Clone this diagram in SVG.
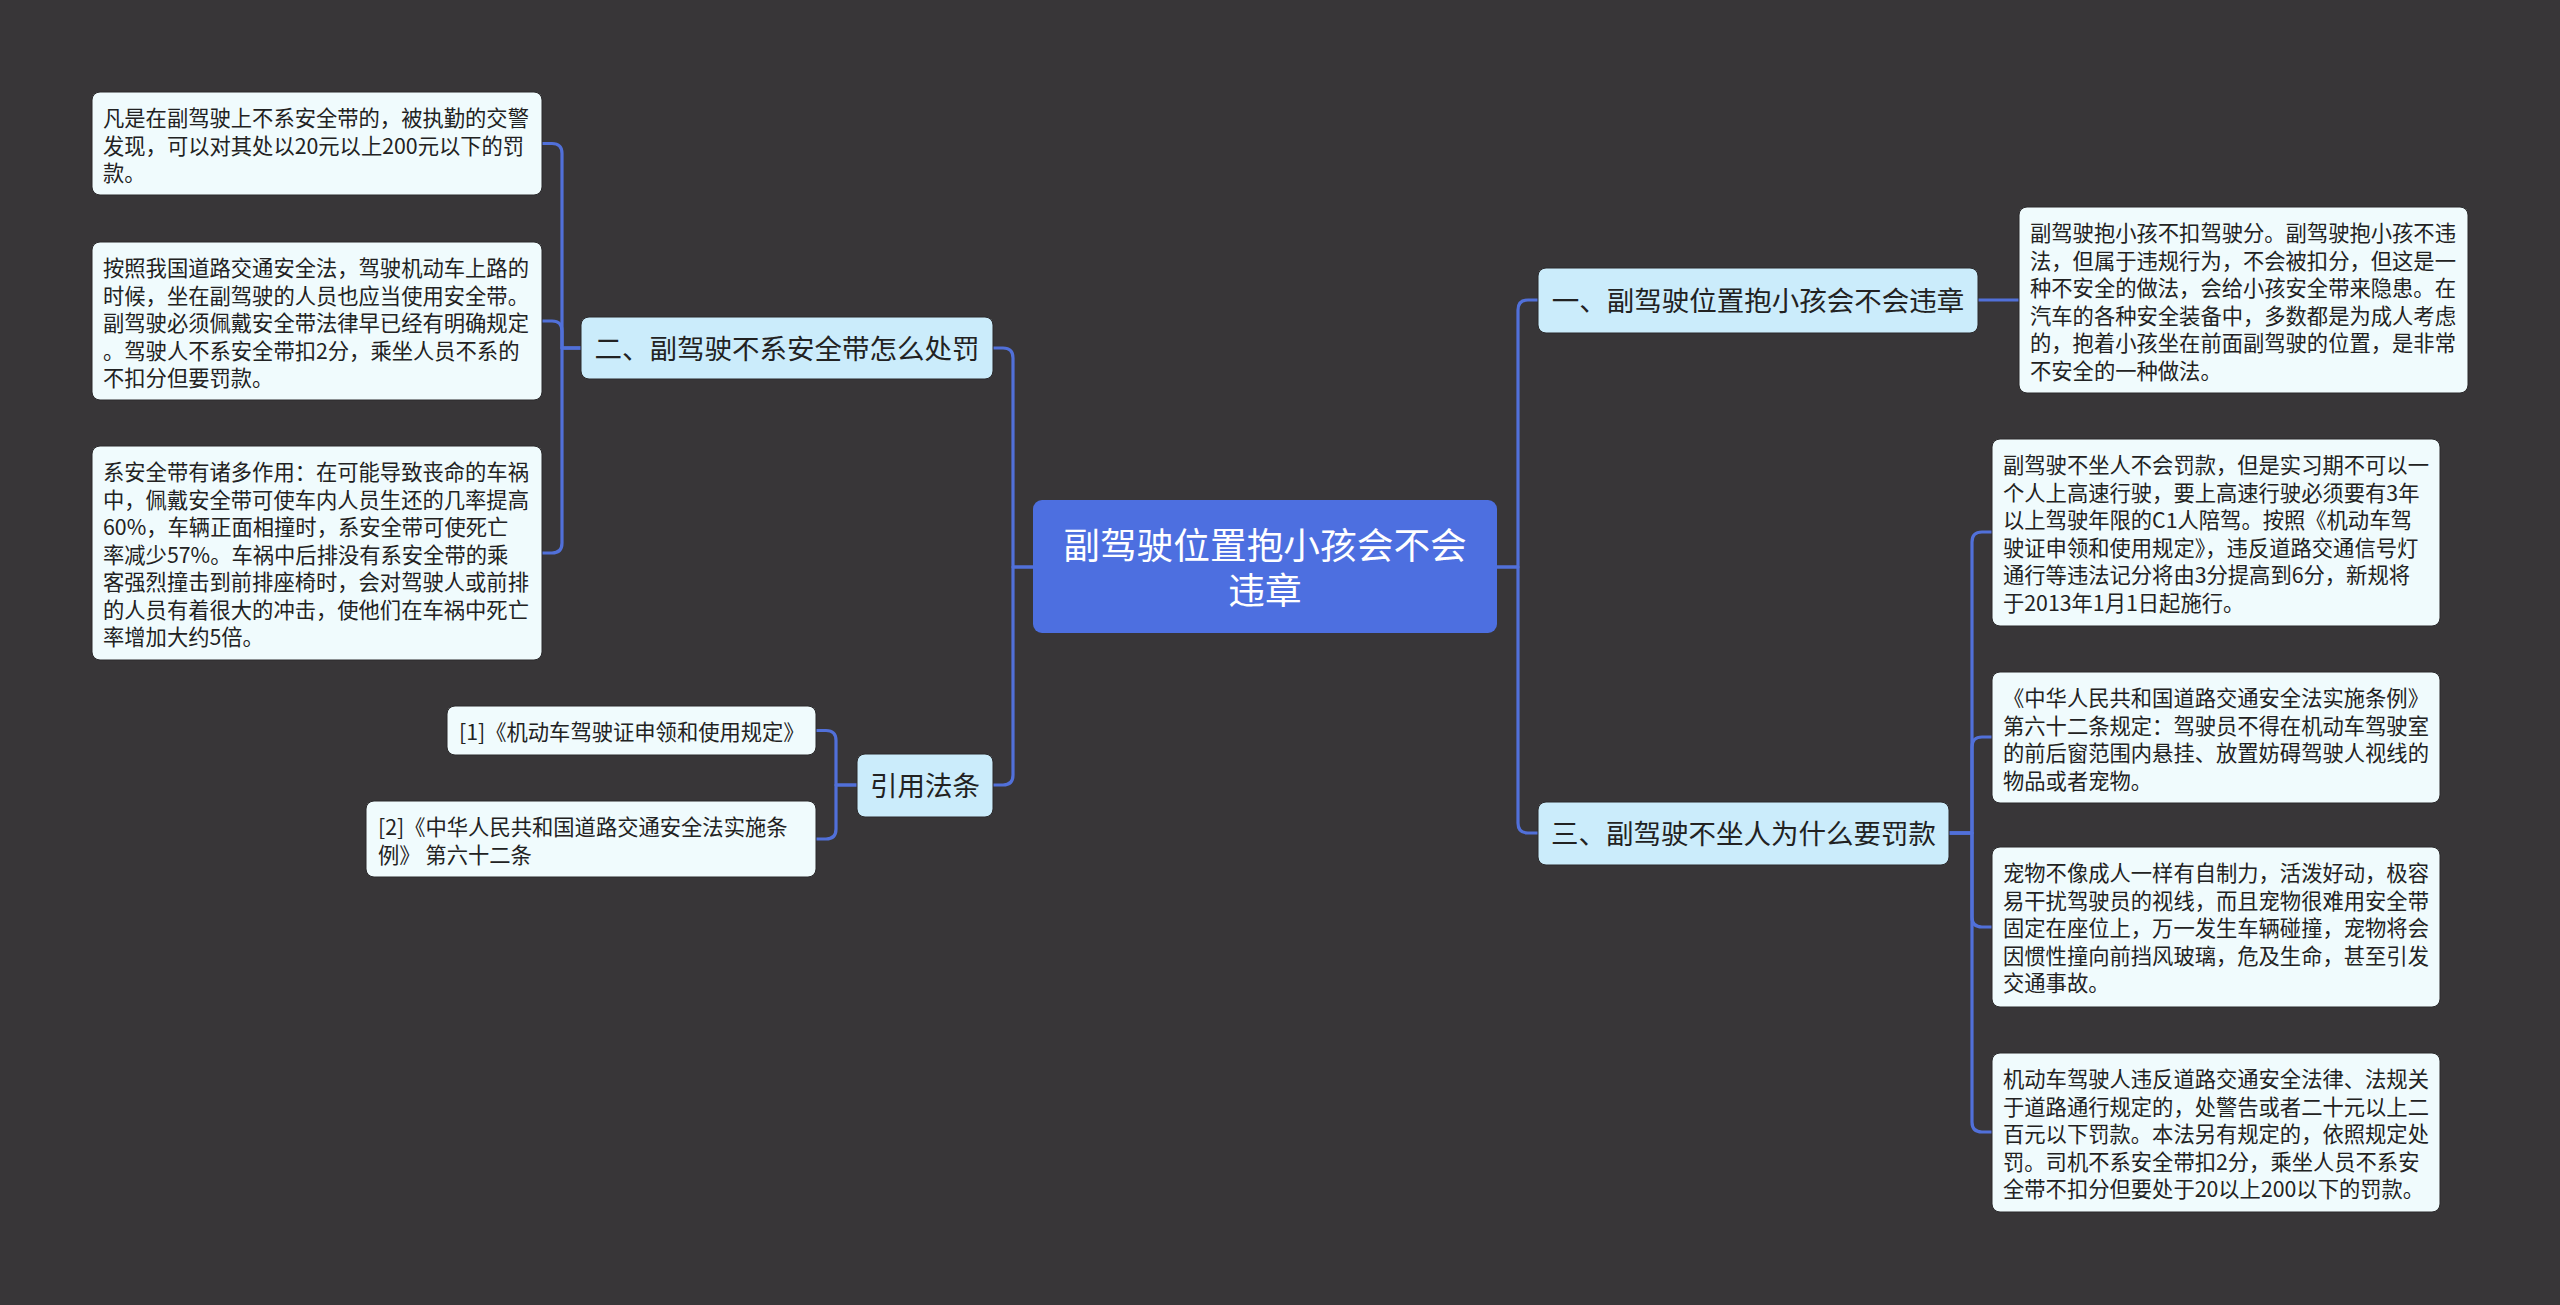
<svg xmlns="http://www.w3.org/2000/svg" width="2560" height="1305" viewBox="0 0 2560 1305">
<style>
.bg{fill:#383638}
.conn path{fill:none;stroke:#5170d9;stroke-width:3.2;stroke-linejoin:round;stroke-linecap:round}
.leaf rect{fill:#f0fbfd;stroke:#2a292b;stroke-width:1}
.leaf text{font-family:"Noto Sans CJK SC","Noto Sans",sans-serif;font-size:21.3px;fill:#222}
.main rect{fill:#cbecfb;stroke:#2a292b;stroke-width:1}
.main text{font-family:"Noto Sans CJK SC","Noto Sans",sans-serif;font-size:27.5px;fill:#222;text-anchor:middle}
.root rect{fill:#4d6fe0}
.root text{font-family:"Noto Sans CJK SC","Noto Sans",sans-serif;font-size:36.7px;fill:#fff;text-anchor:middle}
</style>
<rect class="bg" x="0" y="0" width="2560" height="1305"/>
<g id="connectors" class="conn">
<path d="M1033,567 L1013,567 L1013,358 Q1013,348 1003,348 L993,348"/>
<path d="M1033,567 L1013,567 L1013,775 Q1013,785 1003,785 L993,785"/>
<path d="M1497,567 L1518,567 L1518,310 Q1518,300 1528,300 L1538,300"/>
<path d="M1497,567 L1518,567 L1518,823 Q1518,833 1528,833 L1538,833"/>
<path d="M581,348 L562,348 L562,153.5 Q562,143.5 552,143.5 L542,143.5"/>
<path d="M581,348 L562,348 L562,331 Q562,321 552,321 L542,321"/>
<path d="M581,348 L562,348 L562,543 Q562,553 552,553 L542,553"/>
<path d="M857,785 L836,785 L836,740.5 Q836,730.5 826,730.5 L816,730.5"/>
<path d="M857,785 L836,785 L836,829 Q836,839 826,839 L816,839"/>
<path d="M1978,300 L2019,300"/>
<path d="M1949,833 L1972,833 L1972,542 Q1972,532 1982,532 L1992,532"/>
<path d="M1949,833 L1972,833 L1972,747 Q1972,737 1982,737 L1992,737"/>
<path d="M1949,833 L1972,833 L1972,917 Q1972,927 1982,927 L1992,927"/>
<path d="M1949,833 L1972,833 L1972,1122 Q1972,1132 1982,1132 L1992,1132"/>
</g>
<g id="root" class="root">
<rect x="1033" y="500" width="464" height="133" rx="9"/>
<text><tspan x="1265" y="559">副驾驶位置抱小孩会不会</tspan><tspan x="1265" y="604">违章</tspan></text>
</g>
<g id="n2" class="main">
<rect x="581" y="317" width="412" height="62" rx="8"/>
<text x="787" y="358.5">二、副驾驶不系安全带怎么处罚</text>
</g>
<g id="nref" class="main">
<rect x="857" y="754" width="136" height="63" rx="8"/>
<text x="925" y="796">引用法条</text>
</g>
<g id="n1" class="main">
<rect x="1538" y="268" width="440" height="65" rx="8"/>
<text x="1758" y="311">一、副驾驶位置抱小孩会不会违章</text>
</g>
<g id="n3" class="main">
<rect x="1538" y="802" width="411" height="63" rx="8"/>
<text x="1743.5" y="844">三、副驾驶不坐人为什么要罚款</text>
</g>
<g id="l1" class="leaf">
<rect x="92" y="92" width="450" height="103" rx="8"/>
<text><tspan x="103" y="126">凡是在副驾驶上不系安全带的，被执勤的交警</tspan><tspan x="103" y="153.5">发现，可以对其处以20元以上200元以下的罚</tspan><tspan x="103" y="181">款。</tspan></text>
</g>
<g id="l2" class="leaf">
<rect x="92" y="242" width="450" height="158" rx="8"/>
<text><tspan x="103" y="276">按照我国道路交通安全法，驾驶机动车上路的</tspan><tspan x="103" y="303.5">时候，坐在副驾驶的人员也应当使用安全带。</tspan><tspan x="103" y="331">副驾驶必须佩戴安全带法律早已经有明确规定</tspan><tspan x="103" y="358.5">。驾驶人不系安全带扣2分，乘坐人员不系的</tspan><tspan x="103" y="386">不扣分但要罚款。</tspan></text>
</g>
<g id="l3" class="leaf">
<rect x="92" y="446" width="450" height="214" rx="8"/>
<text><tspan x="103" y="480">系安全带有诸多作用：在可能导致丧命的车祸</tspan><tspan x="103" y="507.5">中，佩戴安全带可使车内人员生还的几率提高</tspan><tspan x="103" y="535">60%，车辆正面相撞时，系安全带可使死亡</tspan><tspan x="103" y="562.5">率减少57%。车祸中后排没有系安全带的乘</tspan><tspan x="103" y="590">客强烈撞击到前排座椅时，会对驾驶人或前排</tspan><tspan x="103" y="617.5">的人员有着很大的冲击，使他们在车祸中死亡</tspan><tspan x="103" y="645">率增加大约5倍。</tspan></text>
</g>
<g id="ref1" class="leaf">
<rect x="447" y="706" width="369" height="49" rx="8"/>
<text><tspan x="459" y="740">[1]《机动车驾驶证申领和使用规定》</tspan></text>
</g>
<g id="ref2" class="leaf">
<rect x="366" y="801" width="450" height="76" rx="8"/>
<text><tspan x="378" y="835">[2]《中华人民共和国道路交通安全法实施条</tspan><tspan x="378" y="862.5">例》 第六十二条</tspan></text>
</g>
<g id="r1" class="leaf">
<rect x="2019" y="207" width="449" height="186" rx="8"/>
<text><tspan x="2030" y="241">副驾驶抱小孩不扣驾驶分。副驾驶抱小孩不违</tspan><tspan x="2030" y="268.5">法，但属于违规行为，不会被扣分，但这是一</tspan><tspan x="2030" y="296">种不安全的做法，会给小孩安全带来隐患。在</tspan><tspan x="2030" y="323.5">汽车的各种安全装备中，多数都是为成人考虑</tspan><tspan x="2030" y="351">的，抱着小孩坐在前面副驾驶的位置，是非常</tspan><tspan x="2030" y="378.5">不安全的一种做法。</tspan></text>
</g>
<g id="r2" class="leaf">
<rect x="1992" y="439" width="448" height="187" rx="8"/>
<text><tspan x="2003" y="473">副驾驶不坐人不会罚款，但是实习期不可以一</tspan><tspan x="2003" y="500.5">个人上高速行驶，要上高速行驶必须要有3年</tspan><tspan x="2003" y="528">以上驾驶年限的C1人陪驾。按照《机动车驾</tspan><tspan x="2003" y="555.5">驶证申领和使用规定》，违反道路交通信号灯</tspan><tspan x="2003" y="583">通行等违法记分将由3分提高到6分，新规将</tspan><tspan x="2003" y="610.5">于2013年1月1日起施行。</tspan></text>
</g>
<g id="r3" class="leaf">
<rect x="1992" y="672" width="448" height="131" rx="8"/>
<text><tspan x="2003" y="706">《中华人民共和国道路交通安全法实施条例》</tspan><tspan x="2003" y="733.5">第六十二条规定：驾驶员不得在机动车驾驶室</tspan><tspan x="2003" y="761">的前后窗范围内悬挂、放置妨碍驾驶人视线的</tspan><tspan x="2003" y="788.5">物品或者宠物。</tspan></text>
</g>
<g id="r4" class="leaf">
<rect x="1992" y="847" width="448" height="160" rx="8"/>
<text><tspan x="2003" y="881">宠物不像成人一样有自制力，活泼好动，极容</tspan><tspan x="2003" y="908.5">易干扰驾驶员的视线，而且宠物很难用安全带</tspan><tspan x="2003" y="936">固定在座位上，万一发生车辆碰撞，宠物将会</tspan><tspan x="2003" y="963.5">因惯性撞向前挡风玻璃，危及生命，甚至引发</tspan><tspan x="2003" y="991">交通事故。</tspan></text>
</g>
<g id="r5" class="leaf">
<rect x="1992" y="1053" width="448" height="159" rx="8"/>
<text><tspan x="2003" y="1087">机动车驾驶人违反道路交通安全法律、法规关</tspan><tspan x="2003" y="1114.5">于道路通行规定的，处警告或者二十元以上二</tspan><tspan x="2003" y="1142">百元以下罚款。本法另有规定的，依照规定处</tspan><tspan x="2003" y="1169.5">罚。司机不系安全带扣2分，乘坐人员不系安</tspan><tspan x="2003" y="1197">全带不扣分但要处于20以上200以下的罚款。</tspan></text>
</g>
</svg>
